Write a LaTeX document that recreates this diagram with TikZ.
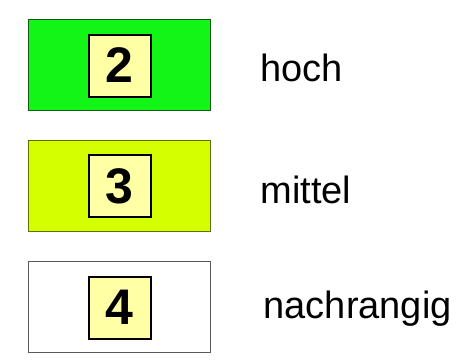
\documentclass[tikz,border=0pt]{standalone}
\usepackage{fontspec}
\setmainfont{Liberation Sans}
\definecolor{cgreen}{RGB}{18,245,22}
\definecolor{cgreenb}{RGB}{20,90,20}
\definecolor{cyel}{RGB}{212,255,0}
\definecolor{cyelb}{RGB}{100,110,0}
\definecolor{cwb}{RGB}{90,90,90}
\definecolor{cinner}{RGB}{255,255,165}
\tikzset{
  outerbox/.style={draw, line width=1pt, minimum width=182pt, minimum height=91pt, inner sep=0pt},
  numbox/.style={draw=black, line width=2pt, fill=cinner, minimum width=62pt, minimum height=62pt, inner sep=0pt, font=\fontsize{50}{50}\selectfont\bfseries},
  lbl/.style={anchor=base west, inner sep=0pt, font=\fontsize{38}{38}\selectfont}
}
\begin{document}
\begin{tikzpicture}[x=1pt,y=-1pt]
\useasboundingbox (0,0) rectangle (476,360);
\node[outerbox, fill=cgreen, draw=cgreenb] (b2) at (119.5,65) {};
\node[numbox] (n2) at (119.5,65.5) {2};
\node[lbl] (t2) at (260.5,81.7) {hoch};
\node[outerbox, fill=cyel, draw=cyelb] (b3) at (119.5,186.2) {};
\node[numbox] (n3) at (119.5,186.4) {3};
\node[lbl] (t3) at (260.3,203.3) {mittel};
\node[outerbox, fill=white, draw=cwb] (b4) at (119.5,307.3) {};
\node[numbox] (n4) at (119.5,307.5) {4};
\node[lbl] (t4) at (263.5,318.3) {nachrangig};
\end{tikzpicture}
\end{document}
